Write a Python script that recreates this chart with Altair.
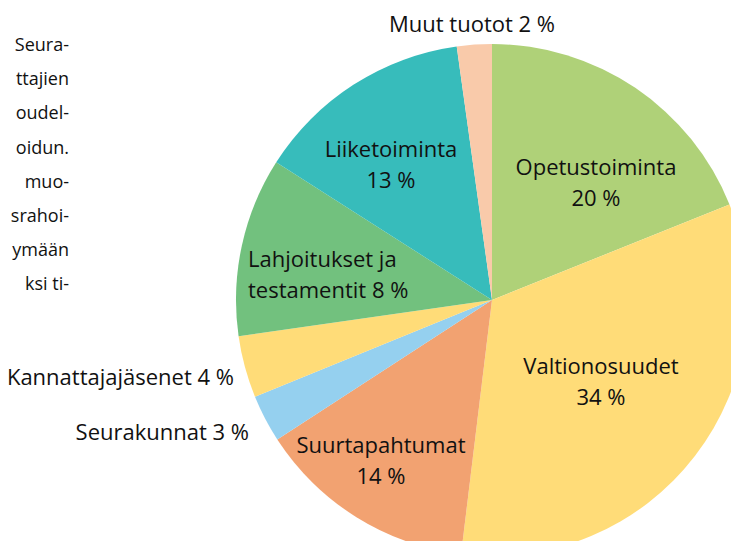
import altair as alt
import pandas as pd

# ---- data ----
categories = ["Opetustoiminta", "Valtionosuudet", "Suurtapahtumat", "Seurakunnat",
              "Kannattajajäsenet", "Lahjoitukset ja testamentit", "Liiketoiminta", "Muut tuotot"]
shares = [18.9, 33.0, 13.9, 3.0, 3.9, 11.3, 13.75, 2.2]
colors = ["#AFD178", "#FFDC78", "#F2A271", "#95D0EF",
          "#FFDC78", "#72C17E", "#37BCBB", "#F9CAAA"]

label_lines = [
    ["Opetustoiminta", "20 %"],
    ["Valtionosuudet", "34 %"],
    ["Suurtapahtumat", "14 %"],
    ["Seurakunnat 3 %"],
    ["Kannattajajäsenet 4 %"],
    ["Lahjoitukset ja", "testamentit 8 %"],
    ["Liiketoiminta", "13 %"],
    ["Muut tuotot 2 %"],
]

side_text = ["Seura-", "ttajien", "oudel-", "oidun.", "muo-", "srahoi-", "ymään", "ksi  ti-"]

# ---- layout ----
W, H = 723, 533
OFF = 8  # page margin
CX, CY, R = 492 - OFF, 300 - OFF, 256
FONT = "Open Sans"
FS = 22
LH = 31

# anchor for each label block (reference px): x, y of first line, align
anchors = [
    (596, 168, "center"),
    (601, 367, "center"),
    (381, 446, "center"),
    (249, 433, "right"),
    (234, 378, "right"),
    (248, 260, "left"),
    (391, 150, "center"),
    (472, 25, "center"),
]

df = pd.DataFrame({"category": categories, "share": shares, "order": list(range(len(categories)))})

pie = alt.Chart(df).mark_arc(radius=R, clip=True).encode(
    theta=alt.Theta("share:Q", stack=True),
    color=alt.Color("category:N", scale=alt.Scale(domain=categories, range=colors), legend=None),
    order=alt.Order("order:Q", sort="ascending"),
    x=alt.value(CX),
    y=alt.value(CY),
)

layers = [pie]
for lines, (ax, ay, al) in zip(label_lines, anchors):
    for i, ln in enumerate(lines):
        layers.append(
            alt.Chart(pd.DataFrame({"t": [ln]})).mark_text(
                font=FONT, fontSize=FS, color="#111111", align=al, baseline="middle"
            ).encode(text="t:N", x=alt.value(ax - OFF), y=alt.value(ay - OFF + i * LH))
        )

for i, ln in enumerate(side_text):
    layers.append(
        alt.Chart(pd.DataFrame({"t": [ln]})).mark_text(
            font=FONT, fontSize=18, color="#111111", align="right", baseline="middle"
        ).encode(text="t:N", x=alt.value(69 - OFF), y=alt.value(46 - OFF + i * 34.2))
    )

chart = alt.layer(*layers).properties(
    width=W, height=H, autosize=alt.AutoSizeParams(type="none"), padding=0,
    background="white"
).configure_view(stroke=None)

chart.save("out.html", embed_options={"renderer": "svg", "actions": False})
